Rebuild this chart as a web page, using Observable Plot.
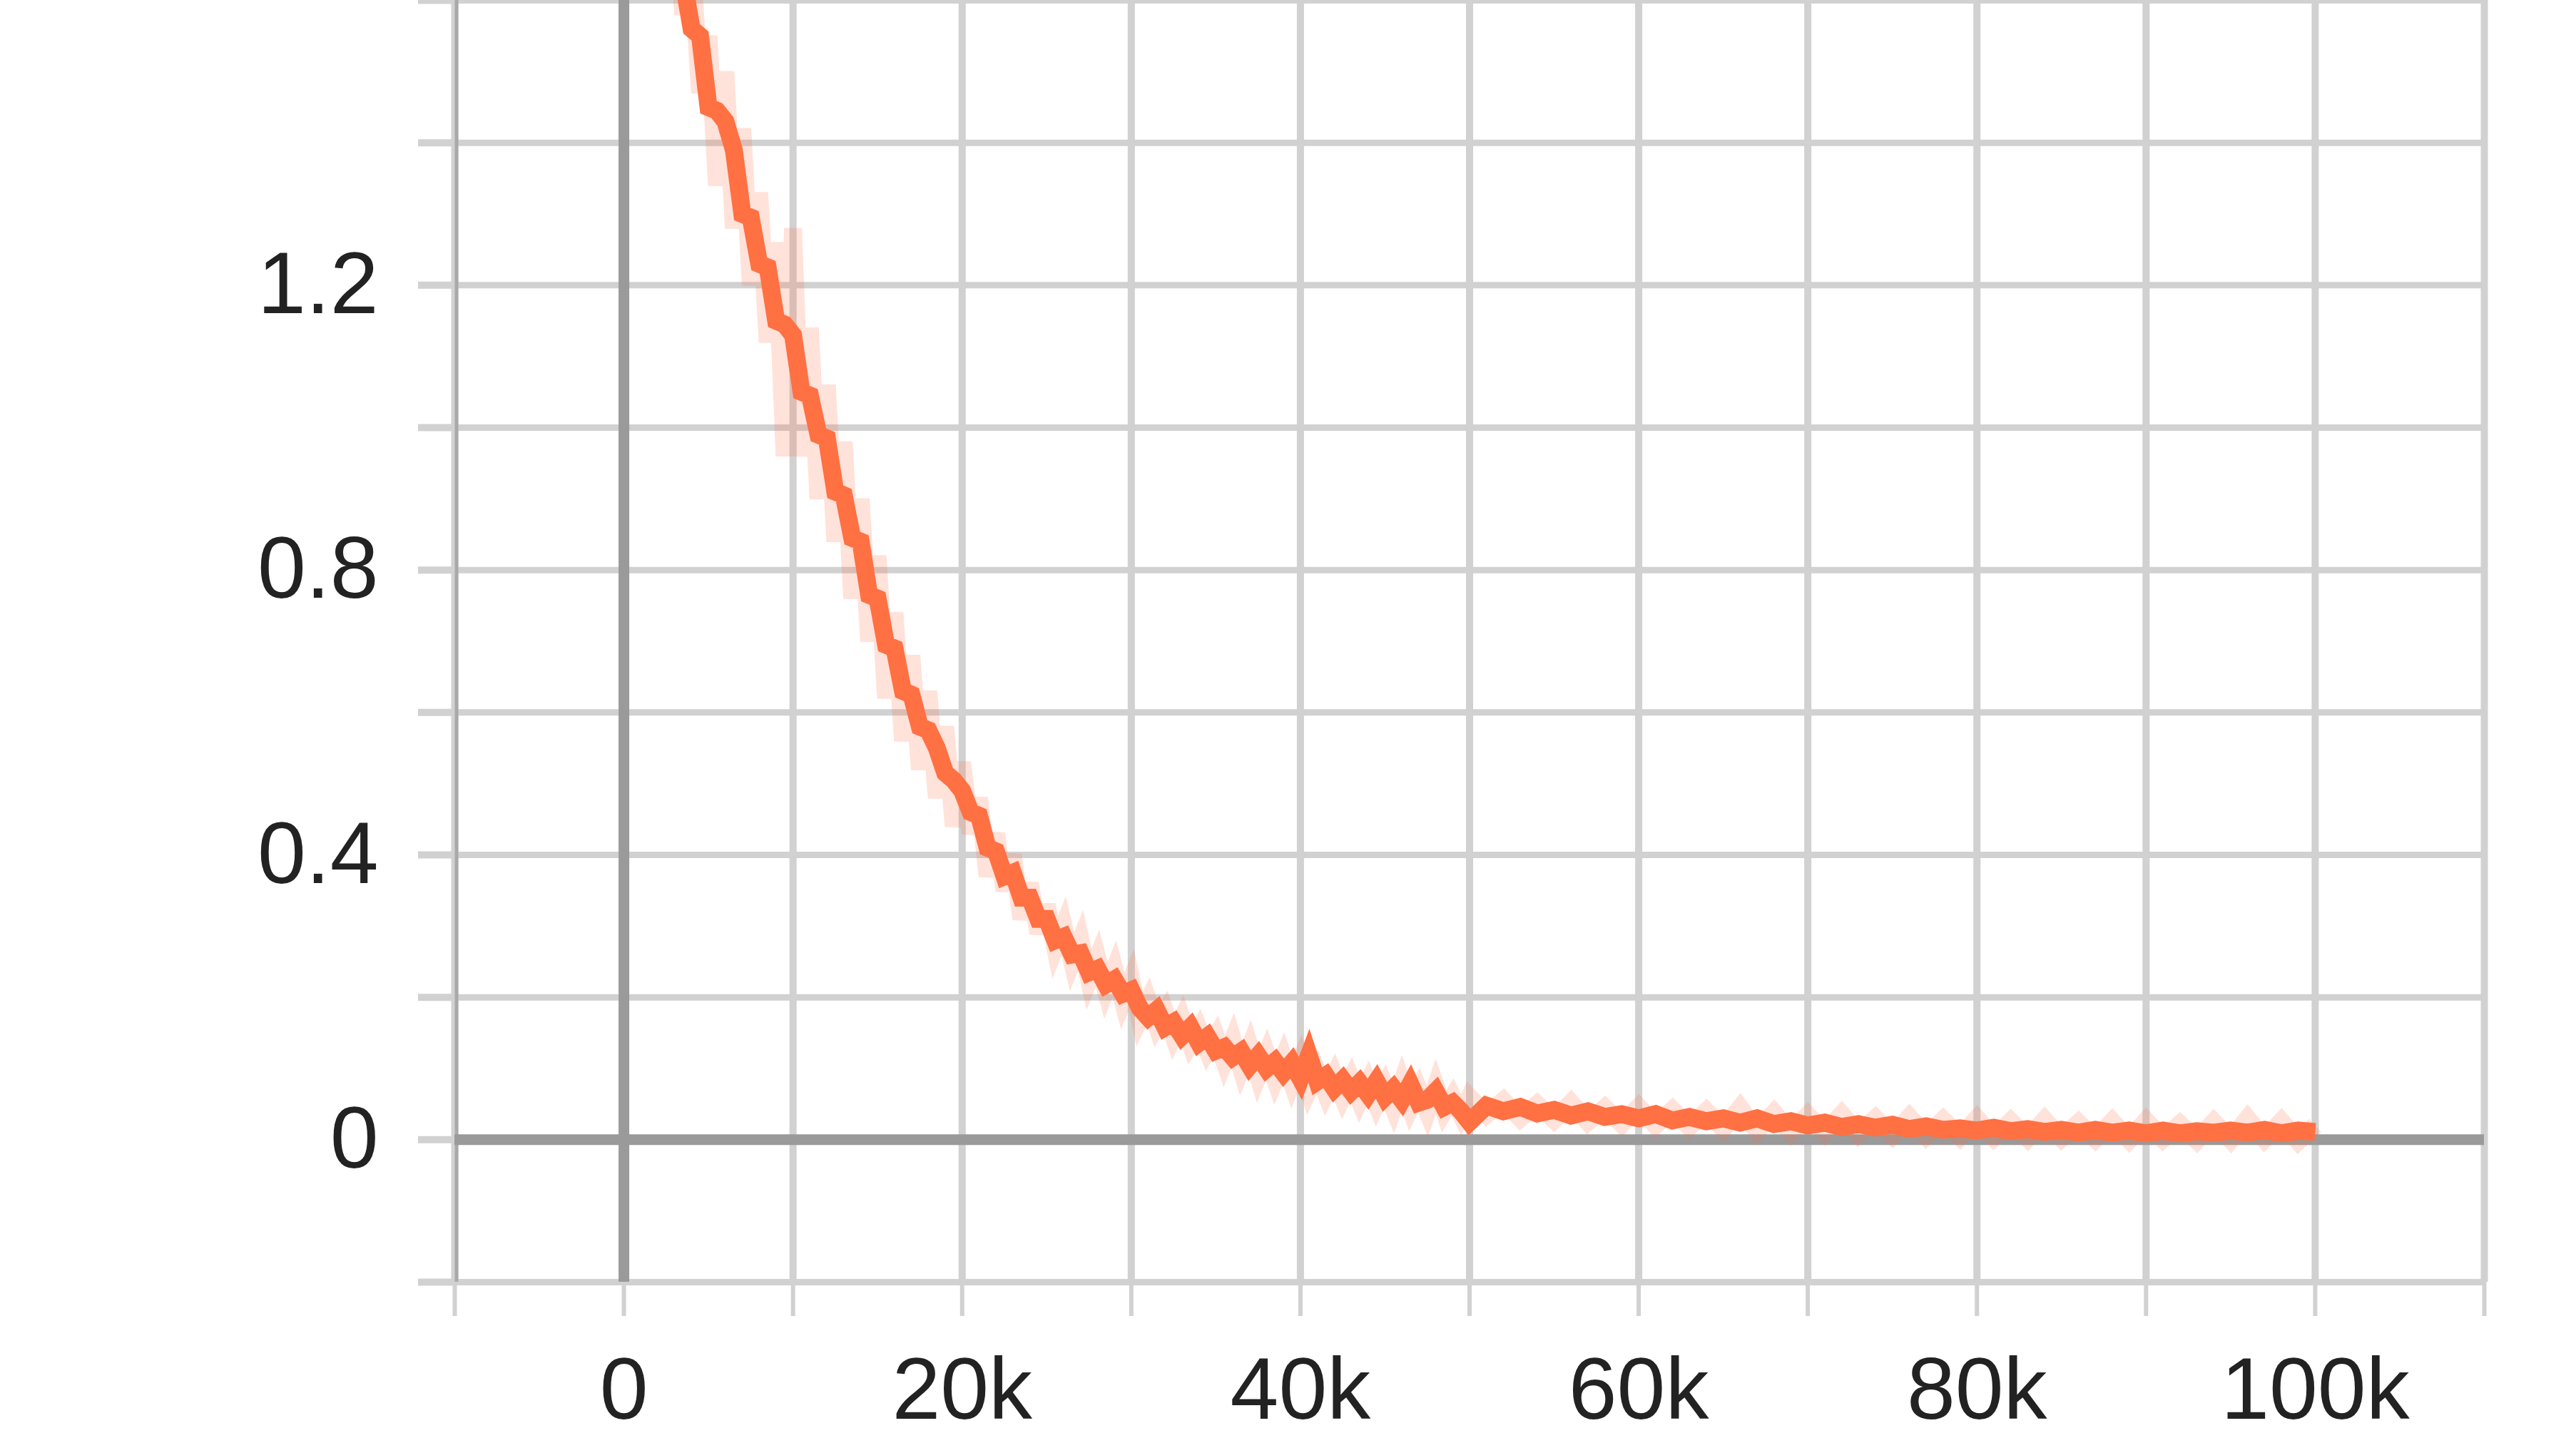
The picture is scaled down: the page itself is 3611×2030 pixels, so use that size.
<!DOCTYPE html>
<html><head><meta charset="utf-8">
<script src="https://cdn.jsdelivr.net/npm/d3@7"></script>
<script src="https://cdn.jsdelivr.net/npm/@observablehq/plot@0.6"></script>
<style>html,body{margin:0;padding:0;background:#fff;overflow:hidden;}</style>
</head><body><div id="chart"></div>
<script>
// training step, in thousands
const stepsK = [
 0,0.5,1,1.5,2,2.5,3,3.5,4,4.5,
 5,5.5,6,6.5,7,7.5,8,8.5,9,9.5,
 10,10.5,11,11.5,12,12.5,13,13.5,14,14.5,
 15,15.5,16,16.5,17,17.5,18,18.5,19,19.5,
 20,20.5,21,21.5,22,22.5,23,23.5,24,24.5,
 25,25.5,26,26.5,27,27.5,28,28.5,29,29.5,
 30,
 30.5,31,31.5,32,32.5,33,33.5,34,34.5,35,
 35.5,36,36.5,37,37.5,38,38.5,39,39.5,40,
 40.5,41,41.5,42,42.5,43,43.5,44,44.5,45,
 45.5,46,46.5,47,47.5,48,48.5,49,49.5,50,
 51,52,53,54,55,56,57,58,59,60,
 61,62,63,64,65,66,67,68,69,70,
 71,72,73,74,75,76,77,78,79,80,
 81,82,83,84,85,86,87,88,89,90,
 91,92,93,94,95,96,97,98,99,100
];
// smoothed loss (bold line)
const smoothed = [
 2.10,2.03,1.97,1.90,1.84,1.77,1.70,1.63,1.56,1.55,
 1.45,1.445,1.43,1.39,1.30,1.295,1.23,1.225,1.15,1.145,
 1.13,1.05,1.045,0.99,0.985,0.91,0.905,0.845,0.84,0.765,
 0.76,0.695,0.69,0.63,0.625,0.58,0.575,0.55,0.515,0.505,
 0.49,0.46,0.455,0.41,0.405,0.37,0.375,0.34,0.34,0.31,
 0.31,0.28,0.285,0.26,0.262,0.235,0.24,0.218,0.225,0.205,
 0.21,
 0.185,0.172,0.182,0.158,0.165,0.146,0.158,0.136,0.145,0.125,
 0.130,0.116,0.124,0.104,0.118,0.100,0.110,0.094,0.108,0.086,
 0.118,0.082,0.090,0.072,0.084,0.068,0.080,0.064,0.082,0.060,
 0.072,0.056,0.078,0.052,0.056,0.068,0.046,0.052,0.040,0.025,
 0.048,0.040,0.046,0.037,0.042,0.034,0.040,0.032,0.036,0.030,
 0.036,0.027,0.032,0.026,0.030,0.024,0.030,0.022,0.026,0.020,
 0.024,0.018,0.022,0.017,0.021,0.015,0.019,0.014,0.016,0.013,
 0.017,0.012,0.015,0.011,0.014,0.010,0.014,0.010,0.013,0.009,
 0.013,0.009,0.012,0.010,0.013,0.010,0.014,0.009,0.013,0.011
];
// raw loss (faint line)
const raw = [
 2.15,1.98,2.02,1.85,1.88,1.72,1.78,1.58,1.66,1.47,
 1.55,1.34,1.50,1.28,1.42,1.20,1.33,1.12,1.26,0.96,
 1.28,0.96,1.14,0.90,1.06,0.84,0.98,0.76,0.90,0.70,
 0.82,0.62,0.74,0.56,0.68,0.52,0.63,0.48,0.58,0.44,
 0.53,0.43,0.48,0.37,0.43,0.35,0.40,0.31,0.36,0.29,
 0.33,0.27,0.30,0.25,0.28,0.225,0.255,0.21,0.24,0.195,
 0.225,
 0.17,0.195,0.16,0.18,0.145,0.17,0.135,0.155,0.125,0.145,
 0.11,0.14,0.10,0.13,0.09,0.12,0.085,0.115,0.08,0.11,
 0.07,0.095,0.065,0.09,0.06,0.085,0.055,0.08,0.05,0.075,
 0.045,0.08,0.045,0.07,0.04,0.075,0.04,0.06,0.035,0.06,
 0.035,0.055,0.03,0.05,0.028,0.052,0.025,0.045,0.022,0.046,
 0.02,0.042,0.018,0.04,0.015,0.045,0.012,0.038,0.01,0.035,
 0.01,0.036,0.008,0.03,0.006,0.032,0.005,0.028,0.004,0.03,
 0.003,0.026,0.002,0.028,0.002,0.024,0.001,0.026,0.0,0.027,
 0.001,0.022,-0.001,0.025,0.0,0.03,0.001,0.026,-0.002,0.02
];

const xDomain = [-10000, 110000];
const yDomain = [-0.2, 1.6];
const xTicks = [-10000,0,10000,20000,30000,40000,50000,60000,70000,80000,90000,100000,110000];
const xLabelTicks = [0,20000,40000,60000,80000,100000];
const xLabelText = ["0","20k","40k","60k","80k","100k"];
const yTicks = [-0.2,0,0.2,0.4,0.6,0.8,1.0,1.2,1.4,1.6];
const yLabelTicks = [0,0.4,0.8,1.2];
const yLabelText = ["0","0.4","0.8","1.2"];

const data = stepsK.map((k, i) => ({step: k * 1000, smooth: smoothed[i], raw: raw[i]}));

const ORANGE = "#ff7043";
const GRID = "#d1d1d1";
const ZERO = "#9a9a9a";

const chart = Plot.plot({
  width: 3611,
  height: 2030,
  marginLeft: 637,
  marginRight: 129,
  marginTop: 0,
  marginBottom: 233,
  x: {domain: xDomain},
  y: {domain: yDomain},
  style: {
    fontFamily: '"Liberation Sans", Arial, Helvetica, sans-serif',
    fontSize: "122px",
    background: "#fff",
    color: "#222",
    overflow: "visible"
  },
  marks: [
    Plot.gridY(yTicks, {stroke: GRID, strokeOpacity: 1, strokeWidth: 9}),
    Plot.gridX(xTicks, {stroke: GRID, strokeOpacity: 1, strokeWidth: 10}),
    Plot.axisY(yTicks, {tickSize: 51, tickFormat: () => "", stroke: GRID, strokeOpacity: 1, strokeWidth: 10, label: null}),
    Plot.axisY(yLabelTicks, {tickSize: 0, tickPadding: 107, fontSize: 122, fill: "#222",
      tickFormat: d => yLabelText[yLabelTicks.indexOf(d)], label: null}),
    Plot.axisX(xTicks, {tickSize: 48, tickFormat: () => "", stroke: GRID, strokeOpacity: 1, strokeWidth: 6, label: null}),
    Plot.axisX(xLabelTicks, {tickSize: 0, tickPadding: 105, fontSize: 122, fill: "#222",
      tickFormat: d => xLabelText[xLabelTicks.indexOf(d)], label: null}),
    Plot.ruleX([xDomain[0]], {stroke: "#a9a9a9", strokeWidth: 5, dx: 2.5}),
    Plot.ruleY([0], {stroke: ZERO, strokeWidth: 15}),
    Plot.ruleX([0], {stroke: ZERO, strokeWidth: 15}),
    Plot.line(data, {x: "step", y: "raw", stroke: ORANGE, strokeOpacity: 0.2, strokeWidth: 25,
      strokeLinejoin: "miter", strokeLinecap: "butt", strokeMiterlimit: 4, clip: true}),
    Plot.line(data, {x: "step", y: "smooth", stroke: ORANGE, strokeWidth: 25,
      strokeLinejoin: "miter", strokeLinecap: "butt", strokeMiterlimit: 4, clip: true})
  ]
});
document.getElementById("chart").appendChild(chart);
</script>
</body></html>
